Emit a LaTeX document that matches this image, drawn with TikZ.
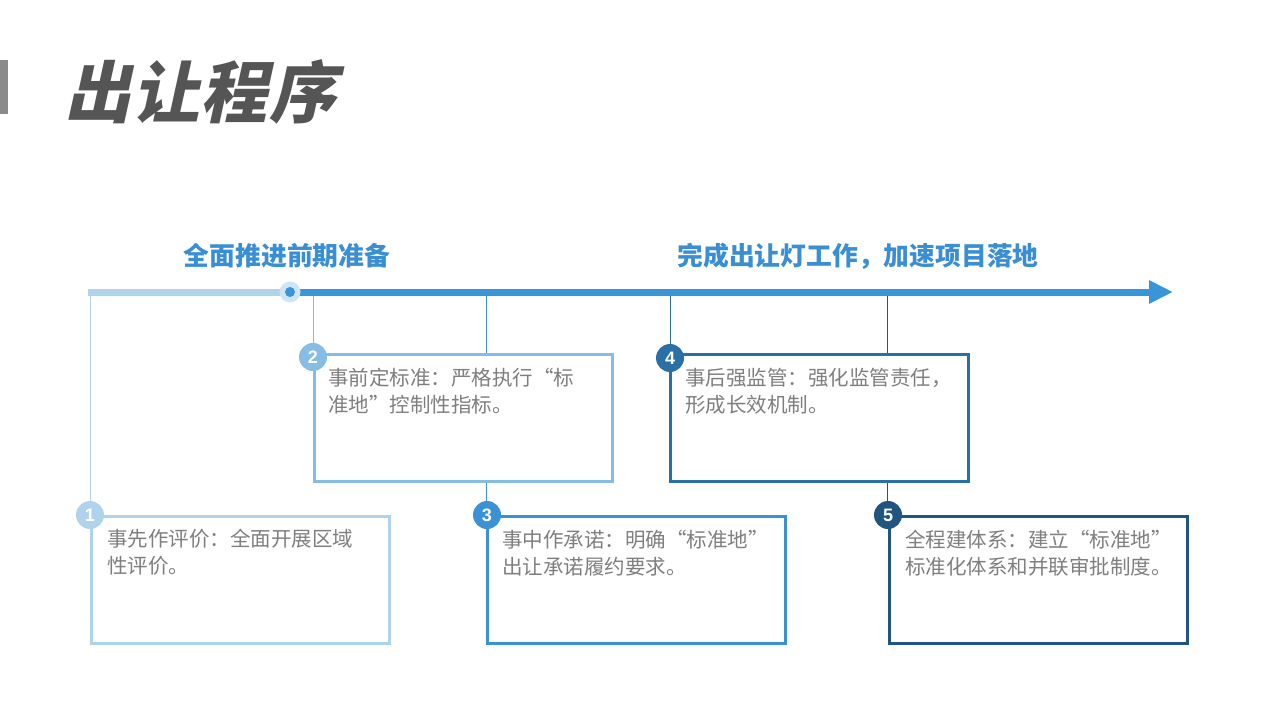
\documentclass[tikz,border=0pt]{standalone}
\usepackage{fontspec}
\setmainfont{Noto Sans CJK SC}
\newfontfamily\titlefont[FakeSlant=0.22,LetterSpace=2]{Noto Sans CJK SC}
\newfontfamily\numfont{Liberation Sans}
\usetikzlibrary{arrows.meta}
\definecolor{cA}{HTML}{AFD3EC}
\definecolor{cB}{HTML}{85BDE5}
\definecolor{cC}{HTML}{3A91D3}
\definecolor{cD}{HTML}{2A6FA6}
\definecolor{cE}{HTML}{1F5580}
\definecolor{tl}{HTML}{3795D8}
\definecolor{halo}{HTML}{CFE4F4}
\definecolor{bodytxt}{HTML}{7F7F7F}
\definecolor{titletxt}{HTML}{555555}
\definecolor{subtxt}{HTML}{3A8FD4}
\definecolor{bar}{HTML}{8A8A8A}
\tikzset{
  stepcard/.style={draw=#1, line width=3pt, fill=white, rectangle, inner sep=0pt,
    minimum width=298pt, minimum height=127pt, anchor=north west},
  badge/.style={circle, fill=#1, inner sep=0pt, minimum size=28pt, text=white,
    font=\numfont\bfseries\fontsize{18}{18}\selectfont},
  conn/.style={draw=#1, line width=1pt},
  cardtext/.style={anchor=north west, inner sep=0pt, align=left, text=bodytxt,
    font=\fontsize{20.5}{27}\selectfont},
  subhead/.style={text=subtxt, font=\bfseries\fontsize{25.8}{28}\selectfont, inner sep=0pt},
}
\begin{document}
\begin{tikzpicture}[x=1pt,y=-1pt]
\useasboundingbox (0,0) rectangle (1280,720);
% title
\fill[bar] (0,60) rectangle (8,114);
\node[anchor=west, inner sep=0pt, text=titletxt,
  font=\titlefont\bfseries\fontsize{67}{72}\selectfont] (title) at (64,92) {出让程序};
% subheadings
\node[subhead] (s1) at (287,256) {全面推进前期准备};
\node[subhead] (s2) at (858,256) {完成出让灯工作，加速项目落地};
% timeline
\coordinate (t0) at (88,292);
\coordinate (tm) at (290,292);
\coordinate (tend) at (1173,292);
\coordinate (p1) at (90,292);
\coordinate (p2) at (313,292);
\coordinate (p3) at (486,292);
\coordinate (p4) at (670,292);
\coordinate (p5) at (887,292);
% connectors
\draw[conn=cA] (p1) -- (90,515);
\draw[conn=cB] (p2) -- (313,357);
\draw[conn=cC] (p3) -- (486,515);
\draw[conn=cD] (p4) -- (670,358);
\draw[conn=cE] (p5) -- (887,515);
\draw[cA, line width=7pt] (t0) -- (tm);
\draw[tl, line width=7pt, -{Triangle[length=24pt,width=22pt]}] (tm) -- (tend);
\node[circle, fill=halo, minimum size=21pt, inner sep=0pt] (dot) at (tm) {};
\node[circle, fill=tl, minimum size=10pt, inner sep=0pt] (dotc) at (dot) {};
% cards
\node[stepcard=cA] (b1) at (90,515) {};
\node[stepcard=cB] (b2) at (313,353) {};
\node[stepcard=cC] (b3) at (486,515) {};
\node[stepcard=cD] (b4) at (669,353) {};
\node[stepcard=cE] (b5) at (888,515) {};
% badges
\node[badge=cA] (n1) at (90,515) {1};
\node[badge=cB] (n2) at (313,357) {2};
\node[badge=cC] (n3) at (487,515) {3};
\node[badge=cD] (n4) at (670,358) {4};
\node[badge=cE] (n5) at (888,515) {5};
% texts
\node[cardtext] (x1) at (107,529) {事先作评价：全面开展区域\\性评价。};
\node[cardtext] (x2) at (328,368) {事前定标准：严格执行“标\\准地”控制性指标。};
\node[cardtext] (x3) at (502,530) {事中作承诺：明确“标准地”\\出让承诺履约要求。};
\node[cardtext] (x4) at (685,368) {事后强监管：强化监管责任，\\形成长效机制。};
\node[cardtext] (x5) at (905,530) {全程建体系：建立“标准地”\\标准化体系和并联审批制度。};
\end{tikzpicture}
\end{document}
